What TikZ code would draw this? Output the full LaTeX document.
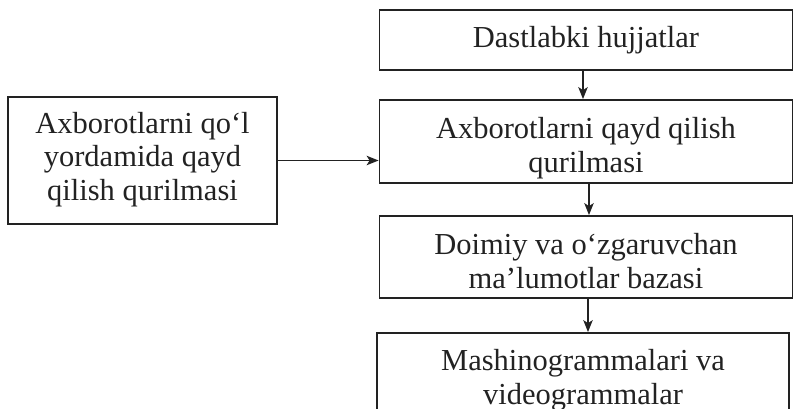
\documentclass[tikz,border=0pt]{standalone}
\usepackage{fontspec}
\setmainfont{Liberation Serif}
\usetikzlibrary{arrows.meta}
\definecolor{ink}{HTML}{222222}
\tikzset{
  blk/.style={draw=ink, line width=1.8pt, text=ink, align=center, inner sep=0pt,
    font=\fontsize{30.5}{33.5}\selectfont},
  conn/.style={draw=ink, line width=1.4pt, -{Stealth[length=12pt,width=9.5pt,inset=3pt]}}
}
\begin{document}
\begin{tikzpicture}[x=1pt,y=-1pt]
\useasboundingbox (0,0) rectangle (794,409);
\clip (0,0) rectangle (794,409);
\node[blk, minimum width=413pt, minimum height=60pt, text height=16pt, text depth=0pt] (d1) at (586,40) {Dastlabki hujjatlar};
\node[blk, minimum width=413pt, minimum height=83pt, text height=61pt, text depth=0pt] (d2) at (586,141.5) {Axborotlarni qayd qilish\\qurilmasi};
\node[blk, minimum width=413pt, minimum height=82pt, text height=62pt, text depth=0pt] (d3) at (586,257) {Doimiy va o‘zgaruvchan\\ma’lumotlar bazasi};
\node[blk, minimum width=412pt, minimum height=90pt, text height=52pt, text depth=0pt] (d4) at (583,378) {Mashinogrammalari va\\videogrammalar};
\node[blk, minimum width=269pt, minimum height=127pt, text height=79pt, text depth=0pt] (l) at (142.5,160.5) {Axborotlarni qo‘l\\yordamida qayd\\qilish qurilmasi};
\draw[conn] ([xshift=-3pt]d1.south) -- ([xshift=-3pt]d1.south |- d2.north);
\draw[conn] ([xshift=3pt]d2.south) -- ([xshift=3pt]d2.south |- d3.north);
\draw[conn] ([xshift=2pt]d3.south) -- ([xshift=2pt]d3.south |- d4.north);
\draw[conn] (l.east) -- (l.east -| d2.west);
\end{tikzpicture}
\end{document}
